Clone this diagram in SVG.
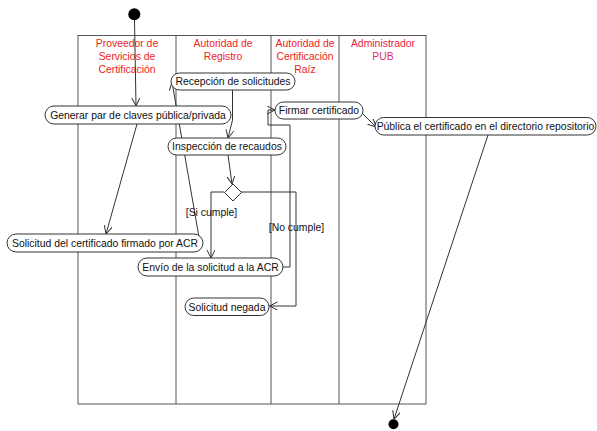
<svg xmlns="http://www.w3.org/2000/svg" width="597" height="431" viewBox="0 0 597 431">
<style>
.lane{fill:none;stroke:#555;stroke-width:1}
.hdr{font-family:"Liberation Sans",Arial,sans-serif;font-size:10.4px;fill:#EE2222;text-anchor:middle}
.node rect{fill:#fff;stroke:#333;stroke-width:1}
.node text,.lbl{font-family:"Liberation Sans",Arial,sans-serif;font-size:10.4px;fill:#111;text-anchor:middle}
.edge{fill:none;stroke:#333;stroke-width:1}
</style>
<defs>
<marker id="arr" markerUnits="userSpaceOnUse" markerWidth="10" markerHeight="10" refX="8" refY="4" orient="auto">
<path d="M0,0 L8,4 L0,8" fill="none" stroke="#333" stroke-width="1"/>
</marker>
</defs>
<rect width="597" height="431" fill="#fff"/>
<g id="swimlanes">
<rect class="lane" x="78" y="35.5" width="348" height="368.5"/>
<line class="lane" x1="176" y1="35.5" x2="176" y2="404"/>
<line class="lane" x1="271" y1="35.5" x2="271" y2="404"/>
<line class="lane" x1="339" y1="35.5" x2="339" y2="404"/>
<text class="hdr" x="127" y="47">Proveedor de</text>
<text class="hdr" x="127" y="60">Servicios de</text>
<text class="hdr" x="127" y="72.5">Certificación</text>
<text class="hdr" x="223" y="47">Autoridad de</text>
<text class="hdr" x="223" y="60">Registro</text>
<text class="hdr" x="305" y="47">Autoridad de</text>
<text class="hdr" x="305" y="60">Certificación</text>
<text class="hdr" x="305" y="72.5">Raíz</text>
<text class="hdr" x="383" y="47" style="fill:#E8233F">Administrador</text>
<text class="hdr" x="383" y="60" style="fill:#E0306A">PUB</text>
</g>
<g id="connectors">
<path class="edge" d="M134.5,20 L136,106" marker-end="url(#arr)"/>
<path class="edge" d="M137,124 L106,234" marker-end="url(#arr)"/>
<path class="edge" d="M200,243 L172,82" marker-end="url(#arr)"/>
<path class="edge" d="M232.5,90 L232.5,120 L228,138" marker-end="url(#arr)"/>
<path class="edge" d="M228,155 L232,184" marker-end="url(#arr)"/>
<path class="edge" d="M224,192 L211,192 L211,258" marker-end="url(#arr)"/>
<path class="edge" d="M241,192 L296,192 L296,306 L269.5,306" marker-end="url(#arr)"/>
<path class="edge" d="M283,267 L290,267 L290,125 L268,125 L268,110 L275,110" marker-end="url(#arr)"/>
<path class="edge" d="M361,112 L376,127" marker-end="url(#arr)"/>
<path class="edge" d="M488,135 L394,419" marker-end="url(#arr)"/>
<text class="lbl" x="211.5" y="215.5">[Si cumple]</text>
<text class="lbl" x="296.5" y="230.5">[No cumple]</text>
</g>
<g id="start"><circle cx="134.3" cy="14.3" r="6" fill="#000"/></g>
<g id="end"><circle cx="393.5" cy="424.3" r="5" fill="#000"/></g>
<g id="recepcion" class="node"><rect x="171" y="73" width="124" height="17" rx="8.5"/><text x="233" y="85">Recepción de solicitudes</text></g>
<g id="generar" class="node"><rect x="45" y="106" width="186" height="18" rx="9"/><text x="138" y="118.5">Generar par de claves pública/privada</text></g>
<g id="inspeccion" class="node"><rect x="168" y="138" width="118" height="17" rx="8.5"/><text x="227" y="150">Inspección de recaudos</text></g>
<g id="firmar" class="node"><rect x="275" y="102" width="88" height="17" rx="8.5"/><text x="319" y="114">Firmar certificado</text></g>
<g id="publica" class="node"><rect x="375" y="117.5" width="221" height="17.5" rx="8.75"/><text x="485.5" y="130">Pública el certificado en el directorio repositorio</text></g>
<g id="decision"><path d="M233,184 L241.5,192.5 L233,201 L224.5,192.5 Z" fill="#fff" stroke="#333" stroke-width="1"/></g>
<g id="solicitud" class="node"><rect x="7" y="234" width="196" height="18" rx="9"/><text x="105" y="246.5">Solicitud del certificado firmado por ACR</text></g>
<g id="envio" class="node"><rect x="138" y="258" width="145" height="18" rx="9"/><text x="210.5" y="270.5">Envío de la solicitud a la ACR</text></g>
<g id="negada" class="node"><rect x="185" y="298" width="84" height="17.5" rx="8.75"/><text x="227" y="310.5">Solicitud negada</text></g>
</svg>
